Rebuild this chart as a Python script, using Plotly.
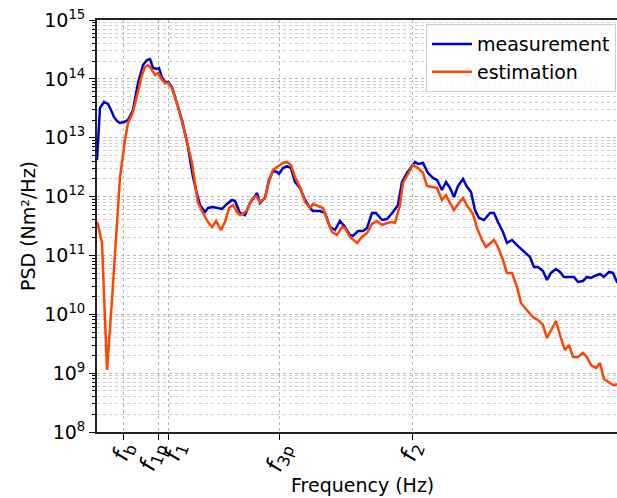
import plotly.graph_objects as go

# Frequencies (Hz) and PSD values
freq_meas = [0.000, 0.0098, 0.0230, 0.0361, 0.0459, 0.0557, 0.0656, 0.0754, 0.0885, 0.1016,
             0.1180, 0.1344, 0.1508, 0.1639, 0.1738, 0.1836, 0.1967, 0.2033, 0.2131, 0.2230,
             0.2328, 0.2459, 0.2557, 0.2787, 0.2984, 0.3148, 0.3246, 0.3377, 0.3541, 0.3639,
             0.3803, 0.3967, 0.4098, 0.4262, 0.4426, 0.4525, 0.4689, 0.4852, 0.5016, 0.5180,
             0.5246, 0.5344, 0.5508, 0.5639, 0.5770, 0.5902, 0.5967, 0.6098, 0.6230, 0.6361,
             0.6492, 0.6656, 0.6820, 0.6984, 0.7082, 0.7311, 0.7475, 0.7639, 0.7803, 0.7967,
             0.8131, 0.8295, 0.8393, 0.8557, 0.8721, 0.8852, 0.9016, 0.9148, 0.9344, 0.9508,
             0.9705, 0.9869, 1.0000, 1.0164, 1.0328, 1.0426, 1.0525, 1.0689, 1.0852, 1.1016,
             1.1148, 1.1311, 1.1443, 1.1574, 1.1705, 1.1836, 1.2000, 1.2131, 1.2262, 1.2393,
             1.2525, 1.2689, 1.2885, 1.3016, 1.3148, 1.3311, 1.3443, 1.3607, 1.3770, 1.3934,
             1.4098, 1.4197, 1.4328, 1.4459, 1.4623, 1.4754, 1.4885, 1.5049, 1.5180, 1.5311,
             1.5508, 1.5639, 1.5770, 1.5934, 1.6066, 1.6197, 1.6328, 1.6492, 1.6623, 1.6787,
             1.6918, 1.7049, 1.7180]
psd_meas = [4.18e12, 3.20e13, 4.05e13, 3.74e13, 2.96e13, 2.25e13, 1.92e13, 1.78e13, 1.85e13, 2.00e13,
            2.96e13, 8.51e13, 1.72e14, 2.09e14, 2.17e14, 1.53e14, 1.47e14, 1.53e14, 1.04e14, 8.85e13,
            8.85e13, 7.28e13, 4.92e13, 2.00e13, 6.95e12, 2.15e12, 1.29e12, 7.19e11, 5.47e11, 6.40e11,
            6.65e11, 6.40e11, 6.15e11, 7.48e11, 8.75e11, 8.41e11, 5.26e11, 4.86e11, 7.78e11, 1.02e12,
            1.15e12, 7.78e11, 9.46e11, 1.91e12, 2.72e12, 2.62e12, 2.42e12, 3.05e12, 3.30e12, 3.05e12,
            1.77e12, 1.40e12, 8.75e11, 6.40e11, 5.69e11, 5.69e11, 5.26e11, 3.04e11, 2.70e11, 3.85e11,
            3.04e11, 2.22e11, 2.14e11, 2.60e11, 2.60e11, 2.92e11, 5.26e11, 5.26e11, 4.00e11, 4.16e11,
            5.47e11, 7.19e11, 1.77e12, 2.52e12, 3.30e12, 3.86e12, 3.57e12, 3.72e12, 2.52e12, 2.07e12,
            1.91e12, 1.29e12, 1.77e12, 1.40e12, 9.84e11, 1.51e12, 1.99e12, 1.46e12, 1.20e12, 5.91e11,
            4.33e11, 4.00e11, 5.26e11, 5.26e11, 3.70e11, 2.50e11, 1.63e11, 1.83e11, 1.50e11, 1.24e11,
            1.02e11, 9.40e10, 6.35e10, 6.35e10, 5.45e10, 3.83e10, 5.04e10, 5.89e10, 5.24e10, 4.31e10,
            4.31e10, 4.31e10, 3.54e10, 3.68e10, 4.31e10, 4.14e10, 4.48e10, 4.84e10, 4.31e10, 5.24e10,
            5.04e10, 3.54e10, 3.20e10]

freq_est = [0.000, 0.0033, 0.0164, 0.0328, 0.0492, 0.0590, 0.0689, 0.0754, 0.0918, 0.1016,
            0.1180, 0.1344, 0.1475, 0.1574, 0.1672, 0.1738, 0.1902, 0.2000, 0.2131, 0.2230,
            0.2328, 0.2459, 0.2656, 0.2885, 0.3115, 0.3213, 0.3311, 0.3475, 0.3639, 0.3770,
            0.3902, 0.4066, 0.4197, 0.4328, 0.4459, 0.4590, 0.4689, 0.4787, 0.4918, 0.5082,
            0.5213, 0.5344, 0.5508, 0.5607, 0.5770, 0.5902, 0.6000, 0.6098, 0.6230, 0.6361,
            0.6492, 0.6656, 0.6820, 0.6984, 0.7082, 0.7246, 0.7410, 0.7574, 0.7705, 0.7869,
            0.8033, 0.8131, 0.8295, 0.8525, 0.8689, 0.8852, 0.9016, 0.9180, 0.9344, 0.9508,
            0.9672, 0.9770, 0.9934, 1.0033, 1.0197, 1.0361, 1.0525, 1.0689, 1.0820, 1.0984,
            1.1148, 1.1311, 1.1443, 1.1574, 1.1705, 1.1869, 1.2000, 1.2164, 1.2328, 1.2459,
            1.2623, 1.2754, 1.2918, 1.3016, 1.3148, 1.3311, 1.3443, 1.3607, 1.3770, 1.3902,
            1.4033, 1.4197, 1.4328, 1.4459, 1.4623, 1.4754, 1.4918, 1.5049, 1.5180, 1.5344,
            1.5475, 1.5607, 1.5770, 1.5934, 1.6066, 1.6197, 1.6361, 1.6492, 1.6623, 1.6754,
            1.6918, 1.7049, 1.7180]
psd_est = [3.70e11, 3.29e11, 1.63e11, 1.13e9, 1.75e10, 1.24e11, 8.75e11, 2.15e12, 9.14e12, 1.78e13,
           2.73e13, 6.47e13, 1.16e14, 1.59e14, 1.72e14, 1.59e14, 1.16e14, 1.26e14, 9.57e13, 8.51e13,
           8.51e13, 7.00e13, 3.33e13, 1.20e13, 3.72e12, 1.70e12, 7.78e11, 5.26e11, 3.70e11, 3.04e11,
           3.85e11, 2.70e11, 3.70e11, 6.40e11, 7.19e11, 5.47e11, 4.86e11, 5.06e11, 5.91e11, 9.10e11,
           1.02e12, 8.09e11, 9.46e11, 1.57e12, 2.83e12, 3.18e12, 3.44e12, 3.72e12, 3.86e12, 3.44e12,
           2.15e12, 1.46e12, 8.09e11, 6.40e11, 7.48e11, 6.92e11, 6.40e11, 3.70e11, 2.50e11, 2.22e11,
           3.04e11, 2.92e11, 2.06e11, 1.63e11, 2.06e11, 2.40e11, 3.42e11, 3.85e11, 3.29e11, 3.56e11,
           3.70e11, 3.56e11, 7.19e11, 1.70e12, 2.42e12, 3.44e12, 3.05e12, 2.52e12, 1.51e12, 1.46e12,
           1.40e12, 8.75e11, 1.06e12, 7.78e11, 5.91e11, 7.78e11, 9.46e11, 6.65e11, 5.06e11, 2.92e11,
           1.83e11, 1.39e11, 1.69e11, 1.83e11, 1.39e11, 8.36e10, 5.04e10, 5.04e10, 2.91e10, 1.56e10,
           1.28e10, 1.05e10, 8.65e9, 8.00e9, 6.58e9, 3.95e9, 5.85e9, 7.69e9, 4.45e9, 2.47e9,
           3.01e9, 1.88e9, 1.88e9, 2.20e9, 1.88e9, 1.37e9, 1.22e9, 1.49e9, 7.94e8, 7.06e8,
           6.29e8, 6.44e8, 6.30e8]

# Characteristic frequencies (Hz) used as x ticks
tick_freqs = [0.0885, 0.2, 0.236, 0.6, 1.033]
tick_labels = ["<i>f</i><sub>b</sub>", "<i>f</i><sub>1p</sub>", "<i>f</i><sub>1</sub>",
               "<i>f</i><sub>3p</sub>", "<i>f</i><sub>2</sub>"]
label_nudge = [0, -5, 7, 0, 0]
y_tick_vals = [1e8, 1e9, 1e10, 1e11, 1e12, 1e13, 1e14, 1e15]
y_tick_text = ["10<sup>%d</sup>" % e for e in range(8, 16)]

FONT = "DejaVu Sans"

fig = go.Figure()
fig.add_trace(go.Scatter(x=freq_meas, y=psd_meas, mode="lines", name="measurement",
                         line=dict(color="#0000CD", width=2.5)))
fig.add_trace(go.Scatter(x=freq_est, y=psd_est, mode="lines", name="estimation",
                         line=dict(color="#FF4500", width=2.5)))

fig.update_layout(
    width=617, height=498,
    margin=dict(l=97, r=0, t=20, b=66),
    paper_bgcolor="white", plot_bgcolor="white",
    font=dict(family=FONT, size=19, color="black"),
    showlegend=True,
    legend=dict(x=0.998, y=0.99, xanchor="right", yanchor="top",
                bgcolor="rgba(255,255,255,0.85)", bordercolor="#cccccc", borderwidth=1,
                font=dict(family=FONT, size=19), itemwidth=40, tracegroupgap=0),
    xaxis=dict(
        range=[0, 1.705], automargin=False,
        tickmode="array", tickvals=tick_freqs, ticktext=tick_labels,
        showticklabels=False,
        ticks="outside", ticklen=6, tickwidth=1.2, tickcolor="black",
        showgrid=True, gridcolor="#b8b8b8", griddash="dot", gridwidth=1,
        showline=True, linecolor="#222222", linewidth=1.8, mirror=True,
        zeroline=False,
    ),
    yaxis=dict(
        type="log", range=[8, 15], automargin=False,
        tickmode="array", tickvals=y_tick_vals, ticktext=y_tick_text,
        ticks="outside", ticklen=6, tickwidth=1.2, tickcolor="black",
        tickfont=dict(family=FONT, size=19),
        showgrid=True, gridcolor="#b8b8b8", griddash="dot", gridwidth=1,
        minor=dict(dtick="D1", ticks="outside", ticklen=3, tickcolor="black",
                   showgrid=True, gridcolor="#cccccc", griddash="dot", gridwidth=1),
        showline=True, linecolor="#222222", linewidth=1.8, mirror=False,
        zeroline=False,
    ),
)

# Rotated x tick labels, centred under each tick (matplotlib style)
for fv, lab, dx in zip(tick_freqs, tick_labels, label_nudge):
    fig.add_annotation(text=lab, x=fv, xref="x", y=-(436 - 432) / 412, yref="paper",
                       textangle=-70, showarrow=False, xanchor="center", yanchor="top",
                       xshift=dx, font=dict(family=FONT, size=23))

# Axis titles placed as annotations
fig.add_annotation(text="Frequency (Hz)", xref="paper", yref="paper",
                   x=(362 - 97) / 520, y=-(485 - 432) / 412,
                   showarrow=False, font=dict(family=FONT, size=19),
                   xanchor="center", yanchor="middle")
fig.add_annotation(text="PSD (Nm²/Hz)", xref="paper", yref="paper",
                   x=-(97 - 28) / 520, y=0.5, textangle=-90,
                   showarrow=False, font=dict(family=FONT, size=19),
                   xanchor="center", yanchor="middle")

fig.write_html("out.html")
